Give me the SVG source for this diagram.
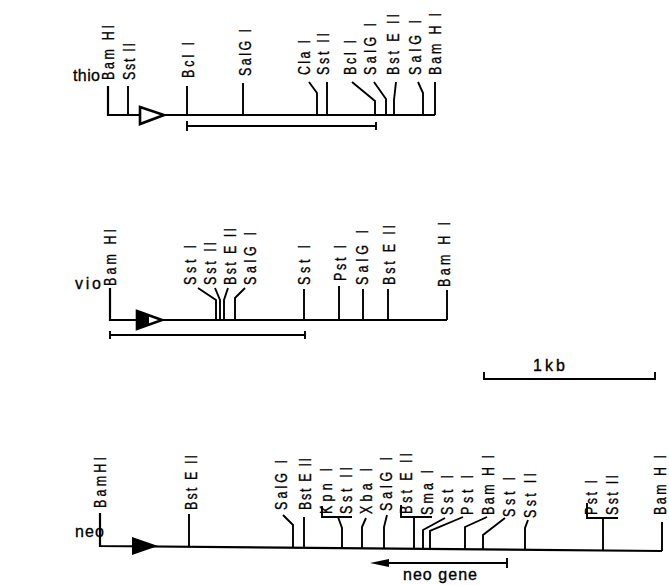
<svg xmlns="http://www.w3.org/2000/svg" width="669" height="585" viewBox="0 0 669 585">
<style>
.l{font-family:"Liberation Sans",Arial,sans-serif;font-size:16px;fill:#000;stroke:#000;stroke-width:0.35}
.n{font-family:"Liberation Sans",Arial,sans-serif;font-size:16px;fill:#000;stroke:#000;stroke-width:0.3}
.c{fill:none;stroke:#000;stroke-width:1.9;stroke-linejoin:miter}
.b{fill:none;stroke:#000;stroke-width:2.2}
</style>
<rect width="669" height="585" fill="#fff"/>
<g id="names">
<text class="n" x="73" y="81" textLength="27">thio</text>
<text class="n" x="75" y="289" textLength="26">vio</text>
<text class="n" x="75" y="537" textLength="29">neo</text>
</g>
<g id="connectors">
<!-- thio -->
<path class="b" d="M108,86 V115 H435"/>
<path class="c" d="M128,86 V115 M187,86 V115 M243,83 V115 M309,82 L317,93 V115 M327,82 V115 M352,82 L375,101 V115 M374,82 L386,99 V115 M396,82 L394,100 V115 M418,82 L423,93 V115 M435,82 V115"/>
<path class="c" d="M187,126 H376 M187,121 V131 M376,122 V130"/>
<polygon points="140,107 164,115 140,124" fill="#fff" stroke="#000" stroke-width="2.6"/>
<!-- vio -->
<path class="b" d="M110,288 V320 H447"/>
<path class="c" d="M198,288 L216,300 V320 M215,288 L220,300 V320 M228,288 L224,300 V320 M245,288 L235,298 V320 M304,289 V320 M339,286 V320 M363,289 V320 M388,289 V320 M447,290 V320"/>
<path class="c" d="M110,335 H305 M110,331 V339 M305,331 V339"/>
<polygon points="137,311 162,320 137,329" fill="#fff" stroke="#000" stroke-width="2.6"/>
<polygon points="137,311 149,315.3 149,324.7 137,329" fill="#000"/>
<!-- scale -->
<path class="c" d="M484,372 V379 H655 V372"/>
<!-- neo -->
<path class="b" d="M100,513 V546 L662,551"/>
<path class="c" d="M189,514 V547 M283,515 L293,525 V548 M304,517 V548 M322,506 V517 H352 M338,517 L342,528 V548 M366,518 L362,527 V548 M387,515 L384,527 V549 M401,505 V517 H432 M414,517 V549 M445,518 L423,530 V549 M463,517 L430,531 V549 M487,517 L465,527 V549 M505,518 L483,535 V549 M528,520 L525,528 V550 M587,503 V518 H618 M603,518 V550 M662,522 V551"/>
<polygon points="132,537 158,546 132,555" fill="#000"/>
<path class="c" d="M386,563 H507 M507,558 V568"/>
<polygon points="370,563 389,559 389,567" fill="#000"/>
</g>
<g id="thio-sites">
<text class="l" transform="translate(113.5,80) rotate(-90) scale(0.78,1)" textLength="70.5">Bam HI</text>
<text class="l" transform="translate(134.5,80) rotate(-90) scale(0.78,1)" textLength="47.4">Sst II</text>
<text class="l" transform="translate(193.5,78) rotate(-90) scale(0.78,1)" textLength="46.2">Bcl I</text>
<text class="l" transform="translate(250.5,76) rotate(-90) scale(0.78,1)" textLength="60.3">SalG I</text>
<text class="l" transform="translate(309.5,75) rotate(-90) scale(0.78,1)" textLength="44.9">Cla I</text>
<text class="l" transform="translate(328.5,75) rotate(-90) scale(0.78,1)" textLength="53.8">Sst II</text>
<text class="l" transform="translate(355.5,75) rotate(-90) scale(0.78,1)" textLength="44.9">Bcl I</text>
<text class="l" transform="translate(375.5,75) rotate(-90) scale(0.78,1)" textLength="66.7">SalG I</text>
<text class="l" transform="translate(398.5,75) rotate(-90) scale(0.78,1)" textLength="78.2">Bst E II</text>
<text class="l" transform="translate(420.5,75) rotate(-90) scale(0.78,1)" textLength="70.5">SalG I</text>
<text class="l" transform="translate(440.5,75) rotate(-90) scale(0.78,1)" textLength="79.5">Bam H I</text>
</g>
<g id="vio-sites">
<text class="l" transform="translate(115.5,286) rotate(-90) scale(0.78,1)" textLength="73.1">Bam HI</text>
<text class="l" transform="translate(195.5,285) rotate(-90) scale(0.78,1)" textLength="51.3">Sst I</text>
<text class="l" transform="translate(215.5,285) rotate(-90) scale(0.78,1)" textLength="55.1">Sst II</text>
<text class="l" transform="translate(235.5,285) rotate(-90) scale(0.78,1)" textLength="73.1">Bst E II</text>
<text class="l" transform="translate(255.5,285) rotate(-90) scale(0.78,1)" textLength="67.9">SalG I</text>
<text class="l" transform="translate(309.5,285) rotate(-90) scale(0.78,1)" textLength="51.3">Sst I</text>
<text class="l" transform="translate(345.5,281) rotate(-90) scale(0.78,1)" textLength="46.2">Pst I</text>
<text class="l" transform="translate(367.5,285) rotate(-90) scale(0.78,1)" textLength="70.5">SalG I</text>
<text class="l" transform="translate(394.5,285) rotate(-90) scale(0.78,1)" textLength="76.9">Bst E II</text>
<text class="l" transform="translate(449.5,287) rotate(-90) scale(0.78,1)" textLength="83.3">Bam H I</text>
</g>
<g id="scale">
<text class="l" x="533" y="371" font-size="14" textLength="32">1kb</text>
</g>
<g id="neo-sites">
<text class="l" transform="translate(105.5,508) rotate(-90) scale(0.78,1)" textLength="65.4">BamHI</text>
<text class="l" transform="translate(196.5,510) rotate(-90) scale(0.78,1)" textLength="70.5">Bst E II</text>
<text class="l" transform="translate(286.5,510) rotate(-90) scale(0.78,1)" textLength="64.1">SalG I</text>
<text class="l" transform="translate(310.5,510) rotate(-90) scale(0.78,1)" textLength="66.7">Bst E II</text>
<text class="l" transform="translate(331.5,514) rotate(-90) scale(0.78,1)" textLength="59">Kpn I</text>
<text class="l" transform="translate(351.5,514) rotate(-90) scale(0.78,1)" textLength="60.3">Sst II</text>
<text class="l" transform="translate(371.5,514) rotate(-90) scale(0.78,1)" textLength="59">Xba I</text>
<text class="l" transform="translate(391.5,511) rotate(-90) scale(0.78,1)" textLength="69.2">SalG I</text>
<text class="l" transform="translate(411.5,514) rotate(-90) scale(0.78,1)" textLength="78.2">Bst E II</text>
<text class="l" transform="translate(432.5,515) rotate(-90) scale(0.78,1)" textLength="57.7">Sma I</text>
<text class="l" transform="translate(452.5,515) rotate(-90) scale(0.78,1)" textLength="51.3">Sst I</text>
<text class="l" transform="translate(472.5,515) rotate(-90) scale(0.78,1)" textLength="51.3">Pst I</text>
<text class="l" transform="translate(493.5,515) rotate(-90) scale(0.78,1)" textLength="76.9">Bam H I</text>
<text class="l" transform="translate(514.5,517) rotate(-90) scale(0.78,1)" textLength="51.3">Sst I</text>
<text class="l" transform="translate(535.5,518) rotate(-90) scale(0.78,1)" textLength="57.7">Sst II</text>
<text class="l" transform="translate(596.5,515) rotate(-90) scale(0.78,1)" textLength="44.9">Pst I</text>
<text class="l" transform="translate(617.5,515) rotate(-90) scale(0.78,1)" textLength="51.3">Sst II</text>
<text class="l" transform="translate(666,515) rotate(-90) scale(0.78,1)" textLength="76.9">Bam H I</text>
</g>
<g id="neo-gene">
<text class="l" x="403" y="580" font-size="14" textLength="74">neo gene</text>
</g>
</svg>
